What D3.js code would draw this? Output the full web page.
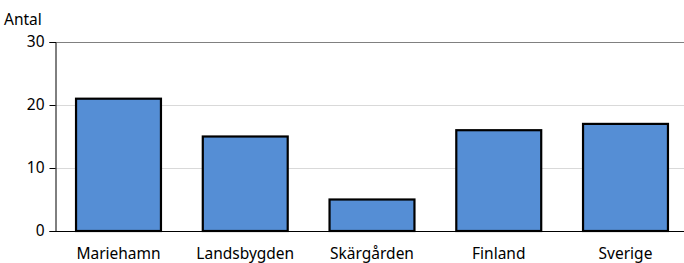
<!DOCTYPE html>
<html>
<head>
<meta charset="utf-8">
<script src="https://cdn.jsdelivr.net/npm/d3@7"></script>
<style>
  body { margin: 0; background: #fff; }
  text { font-family: "Noto Sans", sans-serif; fill: #000; }
</style>
</head>
<body>
<div id="chart"></div>
<script>
const categories = ['Mariehamn', 'Landsbygden', 'Skärgården', 'Finland', 'Sverige'];
const values = [21, 15, 5, 16, 17];
const yTicks = [0, 10, 20, 30];

const width = 684, height = 263;
const plotLeft = 55, plotRight = 689, plotTop = 42, plotBottom = 231;

const svg = d3.select('#chart').append('svg')
    .attr('width', width)
    .attr('height', height);

const x = d3.scaleBand()
    .domain(categories)
    .range([plotLeft, plotRight])
    .paddingInner(0.33)
    .paddingOuter(0.166);

const y = d3.scaleLinear()
    .domain([0, 30])
    .range([plotBottom, plotTop]);

// gridlines
svg.append('g')
    .selectAll('line')
    .data(yTicks.filter(d => d > 0))
    .enter().append('line')
    .attr('x1', plotLeft)
    .attr('x2', width)
    .attr('y1', d => Math.round(y(d)) + 0.5)
    .attr('y2', d => Math.round(y(d)) + 0.5)
    .attr('stroke', d => d === 30 ? '#808080' : '#d9d9d9')
    .attr('stroke-width', 1);

// bars
svg.append('g')
    .selectAll('rect')
    .data(values)
    .enter().append('rect')
    .attr('x', (d, i) => x(categories[i]))
    .attr('y', d => y(d))
    .attr('width', x.bandwidth())
    .attr('height', d => y(0) - y(d))
    .attr('fill', '#558ed5')
    .attr('stroke', '#000')
    .attr('stroke-width', 2.2);

// y axis
const yAxis = svg.append('g')
    .attr('transform', `translate(${plotLeft + 0.5},0)`)
    .call(d3.axisLeft(y).tickValues(yTicks).tickSize(6).tickPadding(5));
yAxis.select('.domain').attr('stroke', '#000');
yAxis.selectAll('.tick line').attr('stroke', '#000');
yAxis.selectAll('text').attr('font-size', 15.5).style('font-family', '"Noto Sans", sans-serif');

// baseline
svg.append('line')
    .attr('x1', plotLeft)
    .attr('x2', width)
    .attr('y1', Math.round(y(0)) + 0.5)
    .attr('y2', Math.round(y(0)) + 0.5)
    .attr('stroke', '#000');

// category labels
svg.append('g')
    .selectAll('text')
    .data(categories)
    .enter().append('text')
    .attr('x', d => x(d) + x.bandwidth() / 2)
    .attr('y', 259)
    .attr('text-anchor', 'middle')
    .attr('font-size', 15.5)
    .text(d => d);

// axis title
svg.append('text')
    .attr('x', 4)
    .attr('y', 25)
    .attr('font-size', 15.5)
    .text('Antal');
</script>
</body>
</html>
